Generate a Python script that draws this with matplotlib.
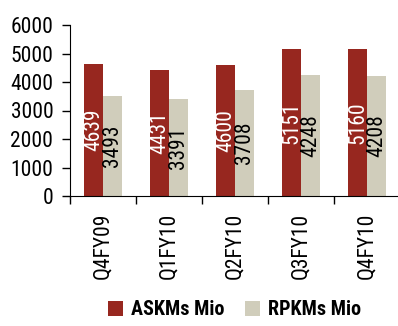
import matplotlib
matplotlib.use("Agg")
import matplotlib.pyplot as plt
import numpy as np

categories = ["Q4FY09", "Q1FY10", "Q2FY10", "Q3FY10", "Q4FY10"]
askms = [4639, 4431, 4600, 5151, 5160]
rpkms = [3493, 3391, 3708, 4248, 4208]
series_names = ["ASKMs Mio", "RPKMs Mio"]

plt.rcParams['font.family'] = ['Roboto Condensed', 'DejaVu Sans']

red = "#97271f"
grey = "#d0cdbb"

fig = plt.figure(figsize=(3.98, 3.26), dpi=100)
ax = fig.add_axes([70/398, 1-196/326, 330/398, (196-25)/326])

x = np.arange(len(categories))
w = 0.285
b1 = ax.bar(x - w/2, askms, w, color=red, label=series_names[0])
b2 = ax.bar(x + w/2, rpkms, w, color=grey, label=series_names[1])

for rect, v in zip(b1, askms):
    ax.text(rect.get_x() + rect.get_width()/2, v/2, str(v), rotation=90,
            ha='center', va='center', color='white', fontsize=15.5)
for rect, v in zip(b2, rpkms):
    ax.text(rect.get_x() + rect.get_width()/2, v/2, str(v), rotation=90,
            ha='center', va='center', color='black', fontsize=15.5)

ax.set_xlim(-0.5, len(categories) - 0.5)
ax.set_ylim(0, 6000)
ax.set_yticks(np.arange(0, 6001, 1000))
ax.tick_params(axis='y', labelsize=15.5, length=6, width=1, pad=6)
ax.set_xticks(x)
ax.set_xticklabels(categories, rotation=90, fontsize=15.5)
ax.tick_params(axis='x', which='major', length=0, pad=12)
ax.set_xticks(np.arange(-0.5, len(categories) - 0.5, 1), minor=True)
ax.tick_params(axis='x', which='minor', length=6, width=1)
for s in ['top', 'right']:
    ax.spines[s].set_visible(False)

leg = fig.legend(handles=[b1, b2], loc='lower center', bbox_to_anchor=(0.59, -0.035),
                 ncol=2, frameon=False, prop={'weight': 'bold', 'size': 14.5},
                 handlelength=0.75, handleheight=0.75, handletextpad=0.4, columnspacing=1.0)

fig.savefig("out.png", dpi=100)
